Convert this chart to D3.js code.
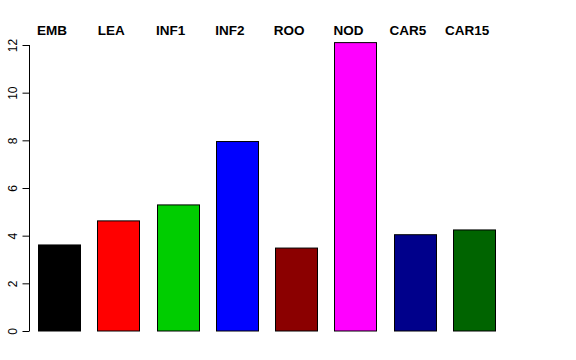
<!DOCTYPE html>
<html><head><meta charset="utf-8">
<script src="https://cdn.jsdelivr.net/npm/d3@7"></script>
<style>body{margin:0;background:#fff}svg{display:block}</style>
</head><body>
<script>
const categories = ["EMB","LEA","INF1","INF2","ROO","NOD","CAR5","CAR15"];
const values = [3.61, 4.62, 5.29, 7.95, 3.48, 12.1, 4.04, 4.24];
const colors = ["#000000","#ff0000","#00cd00","#0000ff","#8b0000","#ff00ff","#00008b","#006400"];
const yTicks = [0,2,4,6,8,10,12];

const W = 576, H = 360;
const svg = d3.select("body").append("svg").attr("width", W).attr("height", H);

const y = d3.scaleLinear().domain([0, 12]).range([331, 45]);
const x = d3.scaleBand().domain(categories).range([38, 495.1]).paddingInner(0.2917).paddingOuter(0);

svg.selectAll("rect.bar").data(categories).enter().append("rect")
  .attr("class","bar")
  .attr("x", d => Math.round(x(d)) + 0.5)
  .attr("width", Math.round(x.bandwidth()))
  .attr("y", (d,i) => y(values[i]))
  .attr("height", (d,i) => y(0) - y(values[i]))
  .attr("fill", (d,i) => colors[i])
  .attr("stroke", "#000").attr("stroke-width", 1);

const axis = d3.axisLeft(y).tickValues(yTicks).tickSize(7).tickFormat(d3.format("d"));
const g = svg.append("g").attr("transform","translate(29.5,0)").call(axis);
g.select(".domain").attr("d", `M0,${y(12)}V${y(0)}`).attr("stroke","#000");
g.selectAll(".tick line").attr("stroke","#000");
g.selectAll(".tick text")
  .attr("font-family","Liberation Sans, Arial, sans-serif")
  .attr("font-size", 12).attr("fill","#000")
  .attr("text-anchor","middle")
  .attr("x", null).attr("dy", null)
  .attr("transform","translate(-13,0) rotate(-90)")
  .attr("y", 0).attr("dy","0");

svg.selectAll("text.lab").data(categories).enter().append("text")
  .attr("class","lab")
  .attr("x", d => x(d) + x.bandwidth()/2 - 7)
  .attr("y", 35)
  .attr("text-anchor","middle")
  .attr("font-family","Liberation Sans, Arial, sans-serif")
  .attr("font-weight","bold")
  .attr("font-size", 13.5)
  .text(d => d);
</script>
</body></html>
